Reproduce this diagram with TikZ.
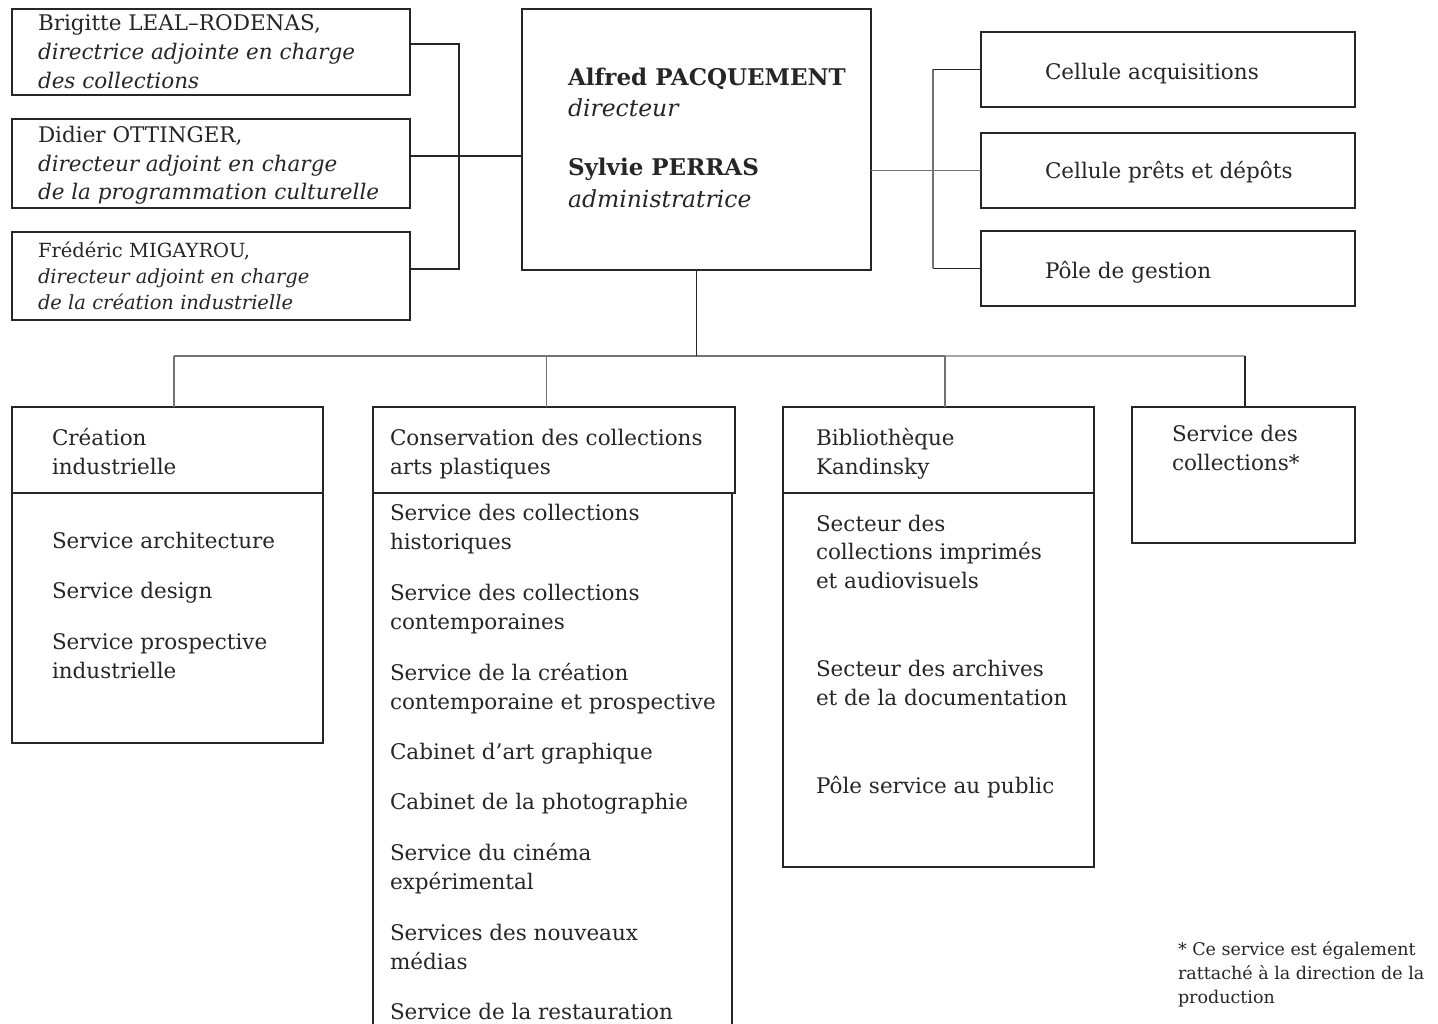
\documentclass[tikz,border=0pt]{standalone}
\usepackage{fontspec}
\setmainfont{DejaVu Serif}
\newcommand\boxlines[1]{\begin{tabular}[t]{@{}l@{}}#1\end{tabular}}
\begin{document}
\begin{tikzpicture}[x=1pt,y=-1pt,
  frame/.style={draw=black!85, line width=1.6pt, inner sep=0pt, outer sep=0pt, anchor=north west},
  link/.style={draw=black!85, line width=1.6pt},
  glink/.style={draw=black!55, line width=1.3pt},
  lglink/.style={draw=black!35, line width=1.3pt},
  txt/.style={anchor=base west, inner sep=0pt, outer sep=0pt, text=black!85,
    font=\fontsize{21.5}{29.5}\selectfont},
  small/.style={txt, font=\fontsize{21.5}{29}\selectfont},
  tiny/.style={txt, font=\fontsize{19.5}{26}\selectfont},
  head/.style={txt, font=\fontsize{23}{30}\selectfont},
  note/.style={txt, font=\fontsize{17.5}{24}\selectfont}]
\useasboundingbox[fill=white] (0,0) rectangle (1438,1024);

% deputy directors
\node[frame, minimum width=398pt, minimum height=86pt] (b1) at (12,9) {};
\node[frame, minimum width=398pt, minimum height=89pt] (b2) at (12,119) {};
\node[frame, minimum width=398pt, minimum height=88pt] (b3) at (12,232) {};
\node[small] (b1t) at (38,31) {\boxlines{Brigitte LEAL–RODENAS,\\\itshape directrice adjointe en charge\\\itshape des collections}};
\node[small, font=\fontsize{21.5}{28.5}\selectfont] (b2t) at (38,143) {\boxlines{Didier OTTINGER,\\\itshape directeur adjoint en charge\\\itshape de la programmation culturelle}};
\node[tiny] (b3t) at (38,258) {\boxlines{Frédéric MIGAYROU,\\\itshape directeur adjoint en charge\\\itshape de la création industrielle}};

% direction
\node[frame, minimum width=349pt, minimum height=261pt] (m) at (522,9) {};
\node[head, font=\fontsize{23}{30}\bfseries] (m1) at (568,86) {Alfred PACQUEMENT};
\node[head, font=\fontsize{23.5}{30}\itshape] (m2) at (568,117) {directeur};
\node[head, font=\fontsize{23}{30}\bfseries] (m3) at (568,176) {Sylvie PERRAS};
\node[head, font=\fontsize{23.5}{30}\itshape] (m4) at (568,208) {administratrice};

% cells on the right
\node[frame, minimum width=374pt, minimum height=75pt] (r1) at (981,32) {};
\node[frame, minimum width=374pt, minimum height=75pt] (r2) at (981,133) {};
\node[frame, minimum width=374pt, minimum height=75pt] (r3) at (981,231) {};
\node[txt] (r1t) at (1045,80) {Cellule acquisitions};
\node[txt] (r2t) at (1045,179) {Cellule prêts et dépôts};
\node[txt] (r3t) at (1045,279) {Pôle de gestion};

% departments
\node[frame, minimum width=311pt, minimum height=86pt] (c1h) at (12,407) {};
\node[frame, minimum width=311pt, minimum height=250pt] (c1b) at (12,493) {};
\node[frame, minimum width=362pt, minimum height=86pt] (c2h) at (373,407) {};
\node[frame, minimum width=359pt, minimum height=545pt] (c2b) at (373,493) {};
\node[frame, minimum width=311pt, minimum height=86pt] (c3h) at (783,407) {};
\node[frame, minimum width=311pt, minimum height=374pt] (c3b) at (783,493) {};
\node[frame, minimum width=223pt, minimum height=136pt] (c4) at (1132,407) {};

\node[txt] (c1t) at (52,445) {\boxlines{Création\\industrielle}};
\node[txt] (c1a) at (52,548) {Service architecture};
\node[txt] (c1c) at (52,598) {Service design};
\node[txt] (c1d) at (52,649) {\boxlines{Service prospective\\industrielle}};

\node[txt] (c2t) at (390,445) {\boxlines{Conservation des collections\\arts plastiques}};
\node[txt] (c2a) at (390,520) {\boxlines{Service des collections\\historiques}};
\node[txt] (c2c) at (390,600) {\boxlines{Service des collections\\contemporaines}};
\node[txt] (c2d) at (390,680) {\boxlines{Service de la création\\contemporaine et prospective}};
\node[txt] (c2e) at (390,759) {Cabinet d’art graphique};
\node[txt] (c2f) at (390,809) {Cabinet de la photographie};
\node[txt] (c2g) at (390,860) {\boxlines{Service du cinéma\\expérimental}};
\node[txt] (c2h2) at (390,940) {\boxlines{Services des nouveaux\\médias}};
\node[txt] (c2i) at (390,1019) {Service de la restauration};

\node[txt] (c3t) at (816,445) {\boxlines{Bibliothèque\\Kandinsky}};
\node[txt, font=\fontsize{21.5}{28.5}\selectfont] (c3a) at (816,531) {\boxlines{Secteur des\\collections imprimés\\et audiovisuels}};
\node[txt] (c3c) at (816,676) {\boxlines{Secteur des archives\\et de la documentation}};
\node[txt] (c3d) at (816,793) {Pôle service au public};

\node[txt] (c4t) at (1172,441) {\boxlines{Service des\\collections*}};

\node[note] (fn) at (1178,955) {\boxlines{* Ce service est également\\rattaché à la direction de la\\production}};

% links to the deputy directors
\coordinate (lt) at ([yshift=-35pt]b1.north east);
\coordinate (lm) at ([yshift=-37pt]b2.north east);
\coordinate (lb) at ([yshift=-37pt]b3.north east);
\coordinate (lx) at (459,0);
\draw[link] (lt) -- (lt -| lx) -- (lb -| lx) -- (lb);
\draw[link] (lm) -- (lm -| m.west);

% links to the cells
\coordinate (rx) at (933,0);
\draw[glink] (r2.west -| m.east) -- (r2.west);
\draw[glink] (r1.west -| rx) -- (r3.west -| rx);
\draw[link] (r1.west -| rx) -- (r1.west);
\draw[link] (r3.west -| rx) -- (r3.west);

% links to the departments
\coordinate (bus) at (0,356);
\coordinate (d1) at ([xshift=6.5pt]c1h.north);
\coordinate (d2) at ([xshift=-7.5pt]c2h.north);
\coordinate (d3) at ([xshift=6.5pt]c3h.north);
\coordinate (d4) at ([xshift=1.5pt]c4.north);
\draw[glink] (d1 |- bus) -- (d3 |- bus);
\draw[lglink] (d3 |- bus) -- (d4 |- bus);
\draw[link] (m.south) -- (m.south |- bus);
\draw[glink] (d1 |- bus) -- (d1);
\draw[glink] (d2 |- bus) -- (d2);
\draw[glink] (d3 |- bus) -- (d3);
\draw[link] (d4 |- bus) -- (d4);
\end{tikzpicture}
\end{document}
